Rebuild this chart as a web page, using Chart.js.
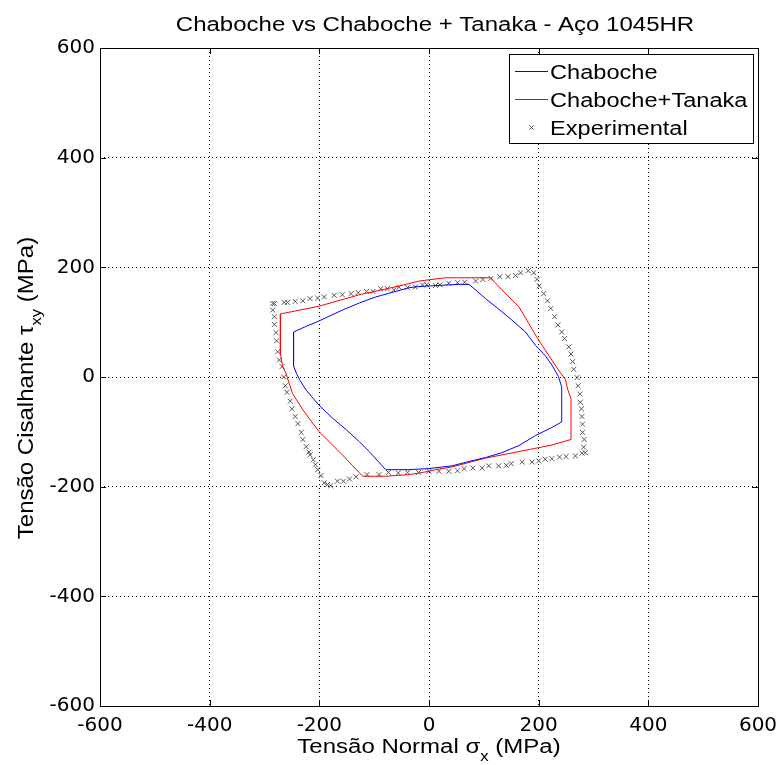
<!DOCTYPE html>
<html>
<head>
<meta charset="utf-8">
<script src="https://cdn.jsdelivr.net/npm/chart.js@4/dist/chart.umd.min.js"></script>
<style>
  html, body { margin: 0; padding: 0; background: #fff; }
  #wrap { width: 781px; height: 765px; }
</style>
</head>
<body>
<div id="wrap"><canvas id="c" width="781" height="765"></canvas></div>
<script>
// ---- Data ----
const chartTitle = 'Chaboche vs Chaboche + Tanaka - Aço 1045HR';
const xTickValues = [-600, -400, -200, 0, 200, 400, 600];
const yTickValues = [-600, -400, -200, 0, 200, 400, 600];
const seriesNames = ['Chaboche', 'Chaboche+Tanaka', 'Experimental'];

// Chaboche (blue)
const chabX = [-247, -247, -242, -236, -224, -201, -176, -151, -127, -109, -79, -36, 0, 42, 73, 103, 133, 164, 194, 224, 242, 242, 236, 224, 212, 194, 176, 151, 133, 103, 73, 54, -18, -36, -97, -127, -158, -201, -225, -247];
const chabY = [82, 20, 7, -5, -24, -51, -75, -96, -118, -136, -169, -169, -167, -162, -154, -147, -138, -125, -107, -92, -82, -18, 1, 22, 39, 58, 82, 104, 119, 143, 169, 169, 165, 163, 146, 135, 122, 102, 92, 82];

// Chaboche + Tanaka (red)
const tanX = [-271, -271, -267, -261, -249, -230, -201, -179, -158, -139, -121, -79, -36, 0, 12, 42, 103, 164, 194, 224, 259, 259, 253, 249, 236, 224, 197, 164, 133, 112, 30, -18, -54, -127, -201, -271];
const tanY = [115, 43, 19, 7, -30, -60, -99, -121, -142, -162, -181, -181, -178, -172, -169, -164, -148, -136, -130, -124, -114, -39, -23, -5, 13, 31, 72, 128, 159, 181, 181, 175, 166, 150, 129, 115];

// Experimental (markers)
const expX = [-285, -282, -264, -258, -244, -230, -217, -203, -191, -173, -158, -142, -129, -114, -102, -88, -76, -64, -55, -39, -25, -12, -4, 12, 20, 36, 52, 65, 85, 98, 113, 129, 144, 158, 167, 181, 191,
  197, 201, 209, 216, 222, 229, 235, 242, 247, 255, 259, 262, 264, 270, 272, 275, 276, 278, 279, 280, 280, 283, 282, 285, 279,
  267, 250, 238, 224, 212, 200, 188, 170, 150, 141, 127, 109, 97, 80, 64, 52, 36, 18, 0, -19, -39, -56, -74, -91, -113, -133, -145, -156, -167, -179, -185, -191,
  -197, -203, -207, -211, -217, -219, -224, -230, -233, -239, -244, -250, -253, -259, -262, -265, -268, -273, -276, -278, -279, -282, -282, -285];
const expY = [134, 134, 136, 136, 138, 139, 143, 144, 146, 149, 150, 152, 154, 156, 156, 161, 161, 159, 164, 163, 164, 168, 168, 167, 168, 171, 172, 173, 175, 178, 180, 183, 183, 185, 190, 194, 190,
  178, 166, 152, 139, 125, 110, 95, 82, 70, 55, 42, 28, 14, -1, -16, -31, -46, -58, -72, -86, -101, -114, -128, -138, -139,
  -144, -145, -146, -149, -150, -153, -155, -155, -158, -161, -162, -162, -166, -166, -167, -171, -172, -172, -172, -174, -174, -175, -174, -178, -178, -182, -186, -190, -190, -198, -196, -193,
  -180, -169, -160, -151, -142, -137, -127, -114, -101, -85, -72, -58, -44, -28, -16, 0, 19, 31, 46, 66, 81, 96, 110, 122];

const toPoints = (xs, ys) => xs.map((x, i) => ({ x: x, y: ys[i] }));

// ---- Styling helpers ----
const TXT_FONT = '"Liberation Sans", Arial, Helvetica, sans-serif';
const STRETCH = 1.2;

function richWidth(ctx, parts, size) {
  let w = 0;
  for (const p of parts) {
    ctx.font = (p.sub ? Math.round(size * 0.72) : size) + 'px ' + TXT_FONT;
    w += ctx.measureText(p.t).width;
  }
  return w;
}
function drawRich(ctx, parts, size, align) {
  let w = richWidth(ctx, parts, size);
  let x = align === 'center' ? -w / 2 : (align === 'right' ? -w : 0);
  for (const p of parts) {
    const s = p.sub ? Math.round(size * 0.72) : size;
    ctx.font = s + 'px ' + TXT_FONT;
    ctx.fillText(p.t, x, p.sub ? size * 0.38 : 0);
    x += ctx.measureText(p.t).width;
  }
}

const decorPlugin = {
  id: 'decor',
  afterDraw(chart) {
    const ctx = chart.ctx;
    const a = chart.chartArea;
    const xs = chart.scales.x, ys = chart.scales.y;
    ctx.save();
    // axes box
    ctx.strokeStyle = '#000';
    ctx.lineWidth = 1;
    ctx.setLineDash([]);
    ctx.strokeRect(Math.round(a.left) + 0.5, Math.round(a.top) + 0.5, Math.round(a.right - a.left), Math.round(a.bottom - a.top));
    // inner tick marks on all four sides
    const tl = 6;
    ctx.beginPath();
    for (const v of xTickValues) {
      const px = Math.round(xs.getPixelForValue(v)) + 0.5;
      ctx.moveTo(px, a.bottom); ctx.lineTo(px, a.bottom - tl);
      ctx.moveTo(px, a.top); ctx.lineTo(px, a.top + tl);
    }
    for (const v of yTickValues) {
      const py = Math.round(ys.getPixelForValue(v)) + 0.5;
      ctx.moveTo(a.left, py); ctx.lineTo(a.left + tl, py);
      ctx.moveTo(a.right, py); ctx.lineTo(a.right - tl, py);
    }
    ctx.stroke();

    ctx.fillStyle = '#000';
    ctx.textBaseline = 'alphabetic';
    // title
    ctx.save();
    ctx.translate(435, 31);
    ctx.scale(STRETCH, 1);
    drawRich(ctx, [{ t: chartTitle }], 20, 'center');
    ctx.restore();
    // x axis title
    ctx.save();
    ctx.translate((a.left + a.right) / 2, 753);
    ctx.scale(STRETCH, 1);
    drawRich(ctx, [{ t: 'Tensão Normal σ' }, { t: 'x', sub: true }, { t: ' (MPa)' }], 20, 'center');
    ctx.restore();
    // y axis title
    ctx.save();
    ctx.translate(33, 388);
    ctx.rotate(-Math.PI / 2);
    ctx.scale(STRETCH, 1.1);
    drawRich(ctx, [{ t: 'Tensão Cisalhante τ' }, { t: 'xy', sub: true }, { t: ' (MPa)' }], 20, 'center');
    ctx.restore();

    // legend
    const lx = 509, ly = 54, lw = 244, lh = 89;
    ctx.fillStyle = '#fff';
    ctx.fillRect(lx, ly, lw, lh);
    ctx.strokeStyle = '#000';
    ctx.lineWidth = 1;
    ctx.strokeRect(lx + 0.5, ly + 0.5, lw, lh);
    const rows = [71, 99, 127];
    chart.data.datasets.forEach((ds, i) => {
      const ry = rows[i];
      ctx.strokeStyle = ds.borderColor;
      ctx.lineWidth = 1;
      if (ds.showLine) {
        ctx.beginPath();
        ctx.moveTo(515, ry + 0.5); ctx.lineTo(548, ry + 0.5);
        ctx.stroke();
      } else {
        const r = 2.2, cx = 531.5, cy = ry + 0.5;
        ctx.beginPath();
        ctx.moveTo(cx - r, cy - r); ctx.lineTo(cx + r, cy + r);
        ctx.moveTo(cx - r, cy + r); ctx.lineTo(cx + r, cy - r);
        ctx.stroke();
      }
      ctx.fillStyle = '#000';
      ctx.save();
      ctx.translate(550, ry + 7.5);
      ctx.scale(1.18, 1);
      drawRich(ctx, [{ t: ds.label }], 20, 'left');
      ctx.restore();
    });
    ctx.restore();
  }
};

const tickFont = { family: '"DejaVu Sans", sans-serif', size: 20 };

new Chart(document.getElementById('c'), {
  type: 'scatter',
  data: {
    datasets: [
      {
        label: seriesNames[0],
        data: toPoints(chabX, chabY),
        showLine: true,
        borderColor: '#0000ff',
        backgroundColor: '#0000ff',
        borderWidth: 1,
        pointRadius: 0,
        tension: 0,
        fill: false
      },
      {
        label: seriesNames[1],
        data: toPoints(tanX, tanY),
        showLine: true,
        borderColor: '#ff0000',
        backgroundColor: '#ff0000',
        borderWidth: 1,
        pointRadius: 0,
        tension: 0,
        fill: false
      },
      {
        label: seriesNames[2],
        data: toPoints(expX, expY),
        showLine: false,
        pointStyle: 'crossRot',
        pointRadius: 3.5,
        borderColor: '#555555',
        backgroundColor: '#555555',
        borderWidth: 1
      }
    ]
  },
  options: {
    responsive: false,
    animation: false,
    devicePixelRatio: 1,
    layout: { padding: { left: 0, right: 23, top: 48, bottom: 0 } },
    plugins: {
      legend: { display: false },
      title: { display: false },
      tooltip: { enabled: false }
    },
    scales: {
      x: {
        type: 'linear',
        min: -600, max: 600,
        afterBuildTicks: (s) => { s.ticks = xTickValues.map(v => ({ value: v })); },
        afterFit: (s) => { s.height = 59; s.paddingLeft = 0; s.paddingRight = 0; },
        ticks: { font: tickFont, color: '#000', padding: 8, maxRotation: 0, autoSkip: false },
        grid: { color: '#000', lineWidth: 1, drawTicks: false },
        border: { display: false, dash: [1, 3] }
      },
      y: {
        type: 'linear',
        min: -600, max: 600,
        afterBuildTicks: (s) => { s.ticks = yTickValues.map(v => ({ value: v })); },
        afterFit: (s) => { s.width = 100; s.paddingTop = 0; s.paddingBottom = 0; },
        ticks: { font: tickFont, color: '#000', padding: 5, autoSkip: false },
        grid: { color: '#000', lineWidth: 1, drawTicks: false },
        border: { display: false, dash: [1, 3] }
      }
    }
  },
  plugins: [decorPlugin]
});
</script>
</body>
</html>
